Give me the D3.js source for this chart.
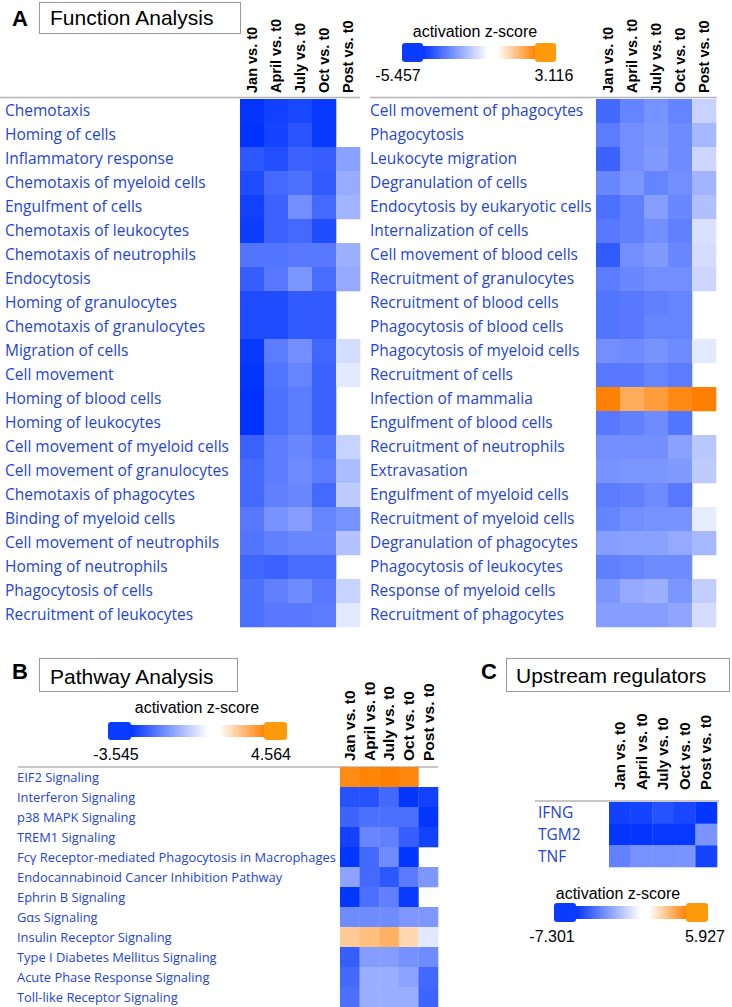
<!DOCTYPE html>
<html><head><meta charset="utf-8">
<script src="https://cdn.jsdelivr.net/npm/d3@7"></script>
<style>body{margin:0;background:#fff} svg{display:block}</style>
</head><body>
<svg id="chart" width="732" height="1007"></svg>
<script>
const columns = ["Jan vs. t0","April vs. t0","July vs. t0","Oct vs. t0","Post vs. t0"];

const funcLeftRows = ["Chemotaxis","Homing of cells","Inflammatory response","Chemotaxis of myeloid cells","Engulfment of cells","Chemotaxis of leukocytes","Chemotaxis of neutrophils","Endocytosis","Homing of granulocytes","Chemotaxis of granulocytes","Migration of cells","Cell movement","Homing of blood cells","Homing of leukocytes","Cell movement of myeloid cells","Cell movement of granulocytes","Chemotaxis of phagocytes","Binding of myeloid cells","Cell movement of neutrophils","Homing of neutrophils","Phagocytosis of cells","Recruitment of leukocytes"];
const funcLeftValues = [
  [-5.40,-5.10,-4.90,-5.30,null],
  [-5.46,-5.00,-4.60,-5.30,null],
  [-4.50,-4.70,-4.20,-4.30,-2.50],
  [-4.80,-4.00,-3.80,-4.40,-2.20],
  [-5.10,-4.20,-3.00,-4.00,-2.00],
  [-5.20,-4.20,-4.00,-4.80,null],
  [-3.70,-3.70,-3.60,-3.60,-2.10],
  [-4.30,-3.60,-2.80,-3.90,-2.30],
  [-4.80,-4.80,-4.40,-4.40,null],
  [-4.80,-4.80,-4.40,-4.40,null],
  [-5.30,-3.50,-3.00,-4.10,-0.90],
  [-5.40,-3.70,-3.30,-4.20,-0.60],
  [-5.45,-3.80,-3.50,-4.20,null],
  [-5.45,-3.80,-3.50,-4.20,null],
  [-4.20,-3.50,-3.20,-3.70,-1.20],
  [-4.00,-3.50,-3.10,-3.50,-1.80],
  [-4.00,-3.40,-3.20,-4.00,-1.40],
  [-3.60,-2.90,-2.60,-3.30,-2.90],
  [-3.70,-3.40,-3.20,-3.20,-1.60],
  [-4.10,-4.20,-3.90,-3.90,null],
  [-3.80,-3.40,-3.10,-3.60,-1.20],
  [-3.80,-3.60,-3.60,-3.50,-0.60]
];

const funcRightRows = ["Cell movement of phagocytes","Phagocytosis","Leukocyte migration","Degranulation of cells","Endocytosis by eukaryotic cells","Internalization of cells","Cell movement of blood cells","Recruitment of granulocytes","Recruitment of blood cells","Phagocytosis of blood cells","Phagocytosis of myeloid cells","Recruitment of cells","Infection of mammalia","Engulfment of blood cells","Recruitment of neutrophils","Extravasation","Engulfment of myeloid cells","Recruitment of myeloid cells","Degranulation of phagocytes","Phagocytosis of leukocytes","Response of myeloid cells","Recruitment of phagocytes"];
const funcRightValues = [
  [-4.00,-3.30,-2.90,-3.30,-1.20],
  [-3.50,-3.00,-2.80,-3.10,-1.90],
  [-4.20,-3.00,-2.70,-3.10,-1.10],
  [-3.20,-2.80,-3.30,-3.00,-2.00],
  [-3.80,-3.40,-2.60,-3.20,-1.70],
  [-3.60,-3.40,-3.00,-3.40,-0.80],
  [-4.40,-3.00,-2.70,-3.20,-0.90],
  [-3.50,-3.20,-3.00,-3.00,-1.10],
  [-3.70,-3.60,-3.40,-3.30,null],
  [-3.70,-3.60,-3.30,-3.30,null],
  [-3.00,-3.10,-2.90,-3.10,-0.60],
  [-3.60,-3.60,-3.30,-3.50,null],
  [3.10,2.00,2.40,2.90,3.116],
  [-3.60,-3.40,-3.10,-3.70,null],
  [-3.00,-3.00,-3.00,-2.50,-1.50],
  [-2.90,-2.80,-2.80,-2.70,-1.40],
  [-3.50,-3.40,-3.10,-3.60,null],
  [-3.30,-3.00,-2.90,-2.90,-0.50],
  [-2.60,-2.50,-2.50,-2.30,-1.90],
  [-3.40,-3.30,-3.10,-3.10,null],
  [-2.80,-2.30,-2.10,-2.80,-1.30],
  [-2.60,-2.60,-2.60,-2.40,-0.90]
];
const funcRange = [-5.457, 3.116];

const pathwayRows = ["EIF2 Signaling","Interferon Signaling","p38 MAPK Signaling","TREM1 Signaling","Fcγ Receptor-mediated Phagocytosis in Macrophages","Endocannabinoid Cancer Inhibition Pathway","Ephrin B Signaling","Gαs Signaling","Insulin Receptor Signaling","Type I Diabetes Mellitus Signaling","Acute Phase Response Signaling","Toll-like Receptor Signaling"];
const pathwayValues = [
  [4.20,4.40,4.56,4.30,null],
  [-3.00,-3.00,-2.60,-3.50,-3.30],
  [-2.70,-2.50,-2.50,-2.50,-3.50],
  [-3.30,-2.10,-2.20,-2.80,-3.30],
  [-3.50,-2.60,-2.00,-3.50,null],
  [-1.60,-2.60,-2.90,-2.30,-1.80],
  [-3.50,-2.50,-2.20,-3.40,null],
  [-2.00,-2.00,-2.00,-1.80,-1.80],
  [1.90,2.30,2.80,1.40,-0.40],
  [-2.80,-1.70,-1.70,-1.90,-2.00],
  [-2.60,-1.40,-1.40,-1.60,-2.60],
  [-2.50,-1.40,-1.40,-1.40,-2.70]
];
const pathwayRange = [-3.545, 4.564];

const upstreamRows = ["IFNG","TGM2","TNF"];
const upstreamValues = [
  [-6.80,-6.70,-6.20,-6.60,-7.20],
  [-7.20,-7.20,-7.10,-7.10,-3.80],
  [-4.50,-3.90,-3.90,-3.80,-6.70]
];
const upstreamRange = [-7.301, 5.927];

const BLUE = "#0033ff", ORANGE = "#ff8000";
const LABEL_COLOR = "#2444d4";
const svg = d3.select("#chart");
const defs = svg.append("defs");

function heatmap(opt) {
  const g = svg.append("g");
  const color = d3.scaleLinear().domain([opt.range[0], 0, opt.range[1]])
    .range([BLUE, "#ffffff", ORANGE]).clamp(true);
  const x = d3.scaleBand().domain(columns).range(opt.xRange);
  const y = d3.scaleBand().domain(opt.rows).range(opt.yRange);
  g.append("line").attr("x1", opt.ruleX[0]).attr("x2", opt.ruleX[1])
    .attr("y1", opt.ruleY).attr("y2", opt.ruleY)
    .attr("stroke", "#b5b5b5").attr("stroke-width", 1.5);
  opt.rows.forEach((r, i) => {
    columns.forEach((c, j) => {
      const v = opt.values[i][j];
      if (v === null) return;
      g.append("rect").attr("x", x(c)).attr("y", y(r))
        .attr("width", x.bandwidth() + 0.3).attr("height", y.bandwidth() + 0.3)
        .attr("fill", color(v));
    });
  });
  g.selectAll("text.row").data(opt.rows).join("text")
    .attr("x", opt.labelX).attr("y", d => y(d) + y.bandwidth() / 2)
    .attr("dy", "0.35em").attr("fill", LABEL_COLOR)
    .style("font-family", "'Open Sans', sans-serif").style("font-size", opt.labelSize + "px")
    .text(d => d);
  g.selectAll("text.col").data(columns).join("text")
    .attr("transform", d => `translate(${x(d) + x.bandwidth() / 2},${opt.headerBottom}) rotate(-90)`)
    .attr("dy", "0.35em")
    .style("font-family", "'Liberation Sans', Arial, sans-serif").style("font-weight", "bold")
    .style("font-size", opt.headerSize + "px").attr("fill", "#000")
    .text(d => d);
}

let gid = 0;
function legend(opt) {
  const id = "lg" + (gid++);
  const grad = defs.append("linearGradient").attr("id", id);
  grad.append("stop").attr("offset", "0").attr("stop-color", BLUE);
  grad.append("stop").attr("offset", "0.58").attr("stop-color", "#ffffff");
  grad.append("stop").attr("offset", "0.66").attr("stop-color", "#ffffff");
  grad.append("stop").attr("offset", "1").attr("stop-color", ORANGE);
  const g = svg.append("g");
  const bw = opt.block, bh = opt.h;
  const inner = 3;
  g.append("rect").attr("x", opt.x0 + bw - 1).attr("y", opt.y0 + inner)
    .attr("width", opt.w - 2 * bw + 2).attr("height", bh - 2 * inner)
    .attr("fill", `url(#${id})`);
  g.append("rect").attr("x", opt.x0).attr("y", opt.y0).attr("width", bw).attr("height", bh)
    .attr("rx", 3).attr("fill", "#0a3cff");
  g.append("rect").attr("x", opt.x0 + opt.w - bw).attr("y", opt.y0).attr("width", bw).attr("height", bh)
    .attr("rx", 3).attr("fill", "#ff9a0a");
  const font = "'Liberation Sans', Arial, sans-serif";
  g.append("text").attr("x", opt.titleX).attr("y", opt.titleY).attr("text-anchor", "middle")
    .style("font-family", font).style("font-size", "16px").text("activation z-score");
  g.append("text").attr("x", opt.minX).attr("y", opt.labelY).attr("text-anchor", "middle")
    .style("font-family", font).style("font-size", "16px").text(String(opt.min));
  g.append("text").attr("x", opt.maxX).attr("y", opt.labelY).attr("text-anchor", "middle")
    .style("font-family", font).style("font-size", "16px").text(String(opt.max));
}

function panelTitle(letter, lx, ly, bx, by, bw, bh, text, tx, ty) {
  const font = "'Liberation Sans', Arial, sans-serif";
  svg.append("text").attr("x", lx).attr("y", ly).style("font-family", font)
    .style("font-weight", "bold").style("font-size", "22px").text(letter);
  svg.append("rect").attr("x", bx).attr("y", by).attr("width", bw).attr("height", bh)
    .attr("fill", "#fff").attr("stroke", "#999").attr("stroke-width", 1);
  svg.append("text").attr("x", tx).attr("y", ty).style("font-family", font)
    .style("font-size", "21px").text(text);
}

// Panel A
panelTitle("A", 12, 26, 39.5, 2.5, 201, 31, "Function Analysis", 50, 25);
heatmap({rows: funcLeftRows, values: funcLeftValues, range: funcRange,
  xRange: [240, 360], yRange: [99, 627], ruleX: [0, 360], ruleY: 97.5,
  labelX: 5, labelSize: 15.5, headerBottom: 93, headerSize: 14.5});
heatmap({rows: funcRightRows, values: funcRightValues, range: funcRange,
  xRange: [596, 716], yRange: [99, 627], ruleX: [370, 717], ruleY: 97.5,
  labelX: 370, labelSize: 15.5, headerBottom: 93, headerSize: 14.5});
legend({x0: 402, y0: 43, w: 154, h: 19, block: 21, min: -5.457, max: 3.116,
  titleX: 475, titleY: 37, minX: 398, maxX: 554, labelY: 81});

// Panel B
panelTitle("B", 12, 679, 39.5, 658.5, 198, 33, "Pathway Analysis", 50, 684);
heatmap({rows: pathwayRows, values: pathwayValues, range: pathwayRange,
  xRange: [340, 438], yRange: [767, 1007], ruleX: [18, 438], ruleY: 767,
  labelX: 17, labelSize: 12.9, headerBottom: 761, headerSize: 15.5});
legend({x0: 108, y0: 722, w: 179, h: 18, block: 23, min: -3.545, max: 4.564,
  titleX: 197, titleY: 713, minX: 116, maxX: 271, labelY: 760});

// Panel C
panelTitle("C", 481, 679, 506.5, 658.5, 223, 33, "Upstream regulators", 516, 683);
heatmap({rows: upstreamRows, values: upstreamValues, range: upstreamRange,
  xRange: [609, 717], yRange: [802, 867], ruleX: [535, 719], ruleY: 801,
  labelX: 538, labelSize: 15.5, headerBottom: 790, headerSize: 15});
legend({x0: 554, y0: 903, w: 154, h: 19, block: 22, min: -7.301, max: 5.927,
  titleX: 618, titleY: 899, minX: 552, maxX: 705, labelY: 942});
</script>
</body></html>
